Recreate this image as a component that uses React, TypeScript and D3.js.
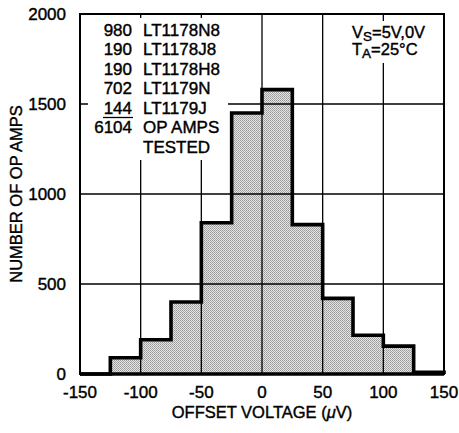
import React from "react";
import * as d3 from "d3";

const binStarts = [-150, -125, -100, -75, -50, -25, 0, 25, 50, 75, 100, 125];
const binWidth = 25;
const counts = [0, 90, 190, 400, 840, 1450, 1580, 830, 420, 215, 155, 10];
const xTicks = [-150, -100, -50, 0, 50, 100, 150];
const yTicks = [0, 500, 1000, 1500, 2000];
const legendCounts = ["980", "190", "190", "702", "144", "6104", ""];
const legendNames = ["LT1178N8", "LT1178J8", "LT1178H8", "LT1179N", "LT1179J", "OP AMPS", "TESTED"];

const W = 459;
const H = 433;
const margin = { left: 80, right: 15, top: 14, bottom: 59 };
const FONT = "'Liberation Sans', Arial, sans-serif";
const TS = { stroke: "#000", strokeWidth: 0.4 };

export default function App() {
  const x = d3.scaleLinear().domain([-150, 150]).range([margin.left, W - margin.right]);
  const y = d3.scaleLinear().domain([0, 2000]).range([H - margin.bottom, margin.top]);

  const pts: [number, number][] = [];
  binStarts.forEach((b, i) => {
    pts.push([b, counts[i]]);
    pts.push([b + binWidth, counts[i]]);
  });
  const line = d3
    .line<[number, number]>()
    .x((d) => x(d[0]))
    .y((d) => y(d[1]));
  const areaGen = d3
    .area<[number, number]>()
    .x((d) => x(d[0]))
    .y0(y(0))
    .y1((d) => y(d[1]));

  const x0 = x(-150);
  const x1 = x(150);
  const yTop = y(2000);
  const yBot = y(0);

  return (
    <svg
      width={W}
      height={H}
      style={{ position: "absolute", left: 0, top: 0, background: "#fff" }}
      fontFamily={FONT}
    >
      <defs>
        <pattern id="stip" width="2" height="2" patternUnits="userSpaceOnUse">
          <rect width="2" height="2" fill="#e4e4e4" />
          <rect x="0" y="0" width="1" height="1" fill="#9a9a9a" />
          <rect x="1" y="1" width="1" height="1" fill="#a8a8a8" />
        </pattern>
      </defs>
      <rect x={0} y={0} width={W} height={H} fill="#fff" />
      <path d={areaGen(pts) || ""} fill="url(#stip)" />
      {xTicks.slice(1, -1).map((t) => (
        <line key={"gx" + t} x1={x(t)} x2={x(t)} y1={yTop} y2={yBot} stroke="#000" strokeWidth={1.3} />
      ))}
      {yTicks.slice(1, -1).map((t) => (
        <line key={"gy" + t} x1={x0} x2={x1} y1={y(t)} y2={y(t)} stroke="#000" strokeWidth={1.3} />
      ))}
      <rect x={x0 + 8} y={yTop + 4} width={140} height={y(1500) - yTop + 52} fill="#fff" />
      <rect x={346} y={yTop + 7} width={93} height={42} fill="#fff" />
      <rect x={x0} y={yTop} width={x1 - x0} height={yBot - yTop} fill="none" stroke="#000" strokeWidth={2} />
      <path
        d={line([[-150, 0], ...pts, [150, 0]]) || ""}
        fill="none"
        stroke="#000"
        strokeWidth={3.6}
        strokeLinejoin="miter"
      />
      <line x1={x0} x2={x1} y1={yBot} y2={yBot} stroke="#000" strokeWidth={3.4} />

      {yTicks.map((t) => (
        <text key={"yl" + t} x={x0 - 14} y={y(t) + 6} textAnchor="end" fontSize={17} fill="#000" {...TS}>
          {t}
        </text>
      ))}
      {xTicks.map((t) => (
        <text key={"xl" + t} x={x(t)} y={398} textAnchor="middle" fontSize={17} fill="#000" {...TS}>
          {t}
        </text>
      ))}
      <text x={262} y={418} textAnchor="middle" fontSize={16.5} fill="#000" {...TS}>
        OFFSET VOLTAGE (<tspan fontStyle="italic">μ</tspan>V)
      </text>
      <text
        transform={`translate(22,${(yTop + yBot) / 2}) rotate(-90)`}
        textAnchor="middle"
        fontSize={16.5}
        fill="#000"
        {...TS}
      >
        NUMBER OF OP AMPS
      </text>

      {legendNames.map((n, i) => (
        <g key={"lg" + i}>
          <text x={132} y={35.7 + i * 19.5} textAnchor="end" fontSize={17} fill="#000" {...TS}>
            {legendCounts[i]}
          </text>
          <text x={143} y={35.7 + i * 19.5} fontSize={17} fill="#000" {...TS}>
            {n}
          </text>
        </g>
      ))}
      <line x1={103} x2={133} y1={117.5} y2={117.5} stroke="#000" strokeWidth={1.3} />

      <text x={352} y={38} fontSize={16.5} fill="#000" {...TS}>
        V<tspan fontSize={13.5} dy={3}>S</tspan>
        <tspan dy={-3}>=5V,0V</tspan>
      </text>
      <text x={352} y={55} fontSize={16.5} fill="#000" {...TS}>
        T<tspan fontSize={13.5} dy={3}>A</tspan>
        <tspan dy={-3}>=25°C</tspan>
      </text>
    </svg>
  );
}
